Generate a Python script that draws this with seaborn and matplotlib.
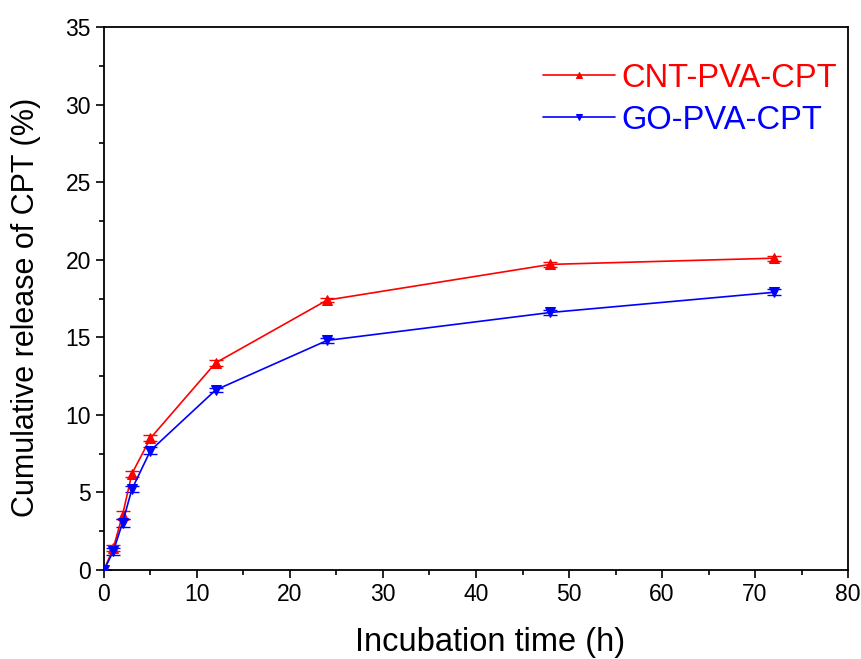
import matplotlib
matplotlib.use("Agg")
import matplotlib.pyplot as plt
import numpy as np
import pandas as pd
import seaborn as sns
from matplotlib.ticker import MultipleLocator

time_h = [0, 1, 2, 3, 5, 12, 24, 48, 72]
cnt_release = [0.0, 1.4, 3.55, 6.2, 8.5, 13.35, 17.4, 19.7, 20.1]
go_release = [0.0, 1.2, 3.05, 5.2, 7.7, 11.6, 14.8, 16.6, 17.9]
cnt_err = [0.0, 0.2, 0.25, 0.2, 0.2, 0.2, 0.15, 0.15, 0.15]
go_err = [0.0, 0.2, 0.25, 0.2, 0.2, 0.15, 0.15, 0.15, 0.2]

series_names = ["CNT-PVA-CPT", "GO-PVA-CPT"]
series_colors = ["#ff0000", "#0000ff"]
series_markers = ["^", "v"]

df = pd.concat(
    [
        pd.DataFrame({"time": time_h, "release": cnt_release, "err": cnt_err, "sample": series_names[0]}),
        pd.DataFrame({"time": time_h, "release": go_release, "err": go_err, "sample": series_names[1]}),
    ],
    ignore_index=True,
)

sns.set_style("ticks")
plt.rcParams["font.family"] = ["Liberation Sans", "DejaVu Sans"]
for key in ["text.color", "axes.labelcolor", "xtick.color", "ytick.color", "axes.edgecolor"]:
    plt.rcParams[key] = "black"

fig = plt.figure(figsize=(8.62, 6.59), dpi=100)
ax = fig.add_axes([0.1206, 0.135, 0.8632, 0.824])

for name, color, marker in zip(series_names, series_colors, series_markers):
    sub = df[df["sample"] == name]
    ax.errorbar(sub["time"], sub["release"], yerr=sub["err"], fmt="none",
                ecolor=color, elinewidth=1.0, capsize=5, capthick=1.0, zorder=2)
    sns.lineplot(data=sub, x="time", y="release", ax=ax, color=color, marker=marker,
                 markersize=6.5, markeredgecolor=color, linewidth=1.2, label=name, zorder=3)

ax.set_xlim(0, 80)
ax.set_ylim(0, 35)
ax.xaxis.set_major_locator(MultipleLocator(10))
ax.xaxis.set_minor_locator(MultipleLocator(5))
ax.yaxis.set_major_locator(MultipleLocator(5))
ax.yaxis.set_minor_locator(MultipleLocator(2.5))
ax.tick_params(which="major", direction="out", length=6, width=1.2, labelsize=16.5)
ax.tick_params(which="minor", direction="out", length=3.5, width=1.2)
for sp in ax.spines.values():
    sp.set_linewidth(1.3)
    sp.set_visible(True)

ax.set_xlabel("Incubation time (h)", fontsize=23.5)
ax.set_ylabel("Cumulative release of CPT (%)", fontsize=22)
ax.xaxis.set_label_coords(0.519, -0.105)
ax.yaxis.set_label_coords(-0.085, 0.484)

leg = ax.legend(loc="upper left", bbox_to_anchor=(0.59, 0.934), frameon=False, fontsize=23.5,
                handlelength=2.2, handletextpad=0.2, labelspacing=0.33,
                borderpad=0, borderaxespad=0)
for txt, color in zip(leg.get_texts(), series_colors):
    txt.set_color(color)
for handle in leg.legend_handles:
    handle.set_markersize(5)

fig.savefig("out.png", dpi=100)
